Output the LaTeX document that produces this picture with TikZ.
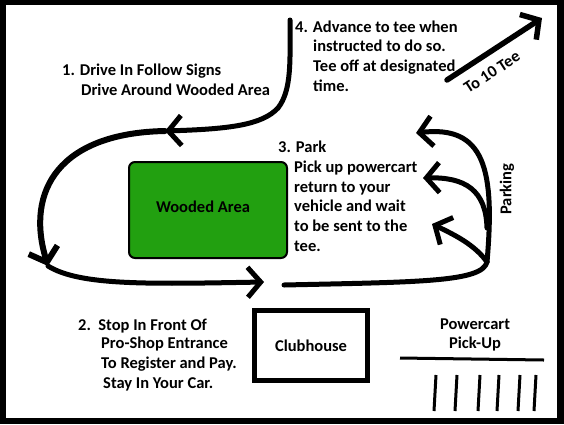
\documentclass[tikz,border=0pt]{standalone}
\usepackage{fontspec}
\setmainfont{Carlito}
\usetikzlibrary{arrows.meta}
\definecolor{woodgreen}{RGB}{34,160,16}

\begin{document}
\begin{tikzpicture}[x=1pt, y=-1pt,
    road/.style={line width=5pt, line cap=round},
    go/.style={-{Straight Barb[length=13pt, width=30pt]}},
    lbl/.style={anchor=base west, inner sep=0pt, align=left, font=\fontsize{16.5}{19.6}\selectfont\bfseries},
    mid/.style={inner sep=0pt, align=center, font=\fontsize{16.5}{19.6}\selectfont\bfseries}]
    \useasboundingbox (0,0) rectangle (564,424);
    \fill (0,0) rectangle (564,424);
    \fill[white] (6,5) rectangle (557,418);

    \node[draw, fill=woodgreen, rounded corners=6pt, line width=2pt, minimum width=158pt, minimum height=96pt] (wood) at (208,210) {};
    \node[mid] (woodtxt) at (203,207) {Wooded Area};
    \node[draw, line width=5pt, minimum width=113pt, minimum height=70pt, mid] (club) at (311,345.5) {Clubhouse};

    % multi-line nodes sit on the baseline of their last line
    \node[lbl] (step1) at (62,75) {1. Drive In Follow Signs};
    \node[lbl] (step1b) at (81,95) {Drive Around Wooded Area};
    \node[lbl] (step2) at (78,330) {2.\ \ Stop In Front Of};
    \node[lbl] (step2b) at (101,368) {Pro-Shop Entrance\\To Register and Pay.};
    \node[lbl] (step2c) at (103,388) {Stay In Your Car.};
    \node[lbl] (step3) at (278,152) {3. Park};
    \node[lbl] (step3b) at (294,251) {Pick up powercart\\return to your\\vehicle and wait\\to be sent to the\\tee.};
    \node[lbl] (step4) at (295,32) {4. Advance to tee when};
    \node[lbl] (step4b) at (313,91) {instructed to do so.\\Tee off at designated\\time.};
    \node[mid] (pickup) at (475,335) {Powercart\\Pick-Up};
    \node[mid, rotate=90] (parking) at (507,189) {Parking};
    \node[mid, rotate=33] (tee10) at (492,72) {To 10 Tee};

    \draw[line width=3pt] (400,358) -- (544,360);
    \foreach \x in {436,457,480,499,520,536}
        \draw[line width=3pt] (\x,375) -- (\x-2,411);

    \coordinate (entry) at (290,20);
    \coordinate (loopA) at (165,131);
    \coordinate (loopB) at (48,266);
    \coordinate (front) at (264,282);
    \coordinate (lot) at (284,285);
    \coordinate (bend) at (487,262);
    \coordinate (parkA) at (416,133);
    \coordinate (parkB) at (423,178);
    \coordinate (parkC) at (432,224);
    \coordinate (fork) at (487,228);
    \coordinate (teeS) at (447,80);
    \coordinate (teeE) at (542,18);

    \draw[road, go] (entry) .. controls (290,60) and (292,90) .. (278,108) .. controls (262,125) and (230,129) .. (loopA);
    \draw[road, go, line width=6pt] (loopA) .. controls (60,133) and (25,190) .. (loopB);
    \draw[road, go] (loopB) .. controls (80,286) and (150,284) .. (front);
    \draw[road] (lot) .. controls (420,282) and (482,282) .. (bend);
    \draw[road, go] (bend) .. controls (495,170) and (485,125) .. (parkA);
    \draw[road, go] (fork) .. controls (486,190) and (465,177) .. (parkB);
    \draw[road, go] (bend) .. controls (475,245) and (455,235) .. (parkC);
    \draw[road, go, line width=5.5pt] (teeS) -- (teeE);
\end{tikzpicture}
\end{document}
